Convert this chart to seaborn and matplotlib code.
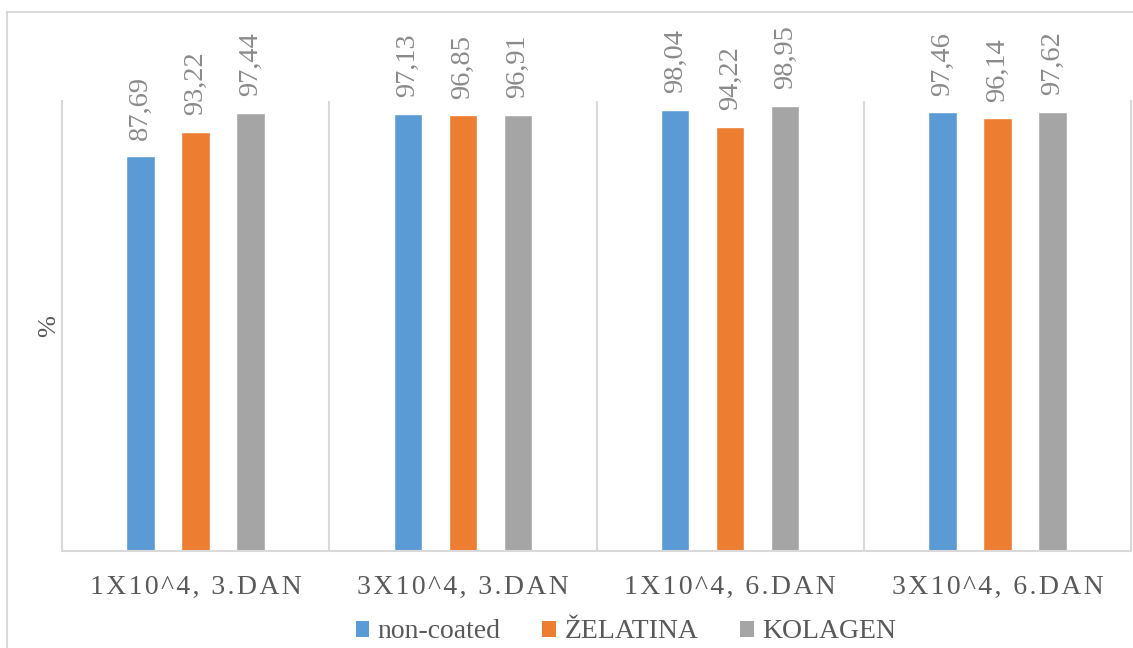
import matplotlib
matplotlib.use("Agg")
from matplotlib import pyplot as plt
from matplotlib.patches import Patch, Rectangle
import seaborn as sns
import pandas as pd

# data
groups = ["1X10^4, 3.DAN", "3X10^4, 3.DAN", "1X10^4, 6.DAN", "3X10^4, 6.DAN"]
series = ["non-coated", "ŽELATINA", "KOLAGEN"]
non_coated = [87.69, 97.13, 98.04, 97.46]
zelatina = [93.22, 96.85, 94.22, 96.14]
kolagen = [97.44, 96.91, 98.95, 97.62]
colors = ["#5B9BD5", "#ED7D31", "#A5A5A5"]

rows = []
for name, vals in zip(series, [non_coated, zelatina, kolagen]):
    for g, v in zip(groups, vals):
        rows.append({"group": g, "series": name, "value": v})
df = pd.DataFrame(rows)

sns.set_theme(style="white")
plt.rcParams["font.family"] = ["Liberation Serif", "DejaVu Serif"]

fig = plt.figure(figsize=(11.33, 6.48), dpi=100)
ax = fig.add_axes([62 / 1133, 97 / 648, 1069 / 1133, 450 / 648])

sns.barplot(data=df, x="group", y="value", hue="series", palette=colors,
            width=0.618, gap=0.48, saturation=1, ax=ax, legend=False)

for cont in ax.containers:
    ax.bar_label(cont, labels=[f"{v:.2f}".replace(".", ",") for v in cont.datavalues],
                 rotation=90, padding=12, fontsize=20.5, color="#8a8a8a")

ax.set_ylim(0, 100)
ax.set_xlim(-0.5, 3.5)
ax.set_yticks([])
for i in range(1, 4):
    ax.axvline(i - 0.5, color="#d9d9d9", lw=1.5, zorder=0)

ax.spines["top"].set_visible(False)
for s in ["left", "bottom", "right"]:
    ax.spines[s].set_color("#d9d9d9")
    ax.spines[s].set_linewidth(1.5)

spaced = ["\u200a".join(g) for g in groups]
ax.set_xticks(range(len(groups)))
ax.set_xticklabels(spaced, fontsize=20, color="#595959")
ax.tick_params(axis="x", length=0, pad=17)
ax.set_xlabel("")
ax.set_ylabel("%", fontsize=19, color="#595959")
ax.yaxis.set_label_coords(-0.002, 0.5)

handles = [Patch(facecolor=c, edgecolor="none") for c in colors]
fig.legend(handles, series, loc="center", bbox_to_anchor=(626 / 1133, 1 - 632 / 648),
           ncol=3, frameon=False, fontsize=20, handlelength=0.5, handleheight=0.5,
           handletextpad=0.3, columnspacing=1.5, labelcolor="#595959")

fig.patches.append(Rectangle((7 / 1133, -0.02), 1.05, 1 - 12 / 648 + 0.02,
                             transform=fig.transFigure, fill=False,
                             edgecolor="#d9d9d9", lw=1.5))

fig.savefig("out.png", dpi=100)
